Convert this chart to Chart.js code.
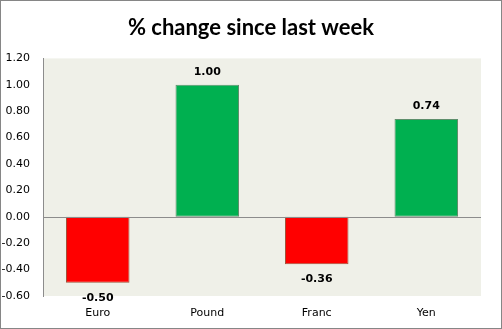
<!DOCTYPE html>
<html>
<head>
<meta charset="utf-8">
<script src="https://cdn.jsdelivr.net/npm/chart.js@4/dist/chart.umd.min.js"></script>
<style>
  html, body { margin: 0; padding: 0; background: #fff; }
  #wrap { width: 502px; height: 329px; position: relative; }
</style>
</head>
<body>
<div id="wrap"><canvas id="chart" width="502" height="329"></canvas></div>
<script>
const categories = ['Euro', 'Pound', 'Franc', 'Yen']
const changes = [-0.50, 1.00, -0.36, 0.74]
const yTicks = [-0.6, -0.4, -0.2, 0, 0.2, 0.4, 0.6, 0.8, 1.0, 1.2]

const upColor = '#00b050'
const downColor = '#ff0000'

// plot background, zero line, outer frame and value labels
const excelLook = {
  id: 'excelLook',
  beforeDraw(chart) {
    const { ctx, chartArea: a } = chart
    ctx.save()
    ctx.fillStyle = '#eff0e8'
    ctx.fillRect(a.left, a.top, a.right - a.left, a.bottom - a.top)
    ctx.restore()
  },
  afterDatasetsDraw(chart) {
    const { ctx, chartArea: a } = chart
    const y0 = Math.round(chart.scales.y.getPixelForValue(0)) + 0.5
    ctx.save()
    ctx.strokeStyle = '#8c8c8c'
    ctx.lineWidth = 1
    ctx.beginPath()
    ctx.moveTo(a.left, y0)
    ctx.lineTo(a.right, y0)
    ctx.stroke()

    ctx.font = 'bold 11px "DejaVu Sans"'
    ctx.fillStyle = '#000'
    ctx.textAlign = 'center'
    ctx.textBaseline = 'middle'
    chart.getDatasetMeta(0).data.forEach((bar, i) => {
      let v = changes[i]
      let y = v >= 0 ? bar.y - 13 : bar.y + 15
      ctx.fillText(v.toFixed(2), bar.x, y)
    })

    ctx.strokeStyle = '#868686'
    ctx.strokeRect(0.5, 0.5, chart.width - 1, chart.height - 1)
    ctx.restore()
  }
}

new Chart(document.getElementById('chart'), {
  type: 'bar',
  data: {
    labels: categories,
    datasets: [{
      data: changes,
      backgroundColor: changes.map(v => v >= 0 ? upColor : downColor),
      borderColor: changes.map(v => v >= 0 ? '#5e8f6c' : '#a0523a'),
      borderWidth: 1,
      borderSkipped: false,
      categoryPercentage: 1,
      barPercentage: 0.58
    }]
  },
  options: {
    responsive: false,
    animation: false,
    layout: { padding: { left: 0, right: 0, top: 0, bottom: 9 } },
    plugins: {
      legend: { display: false },
      tooltip: { enabled: false },
      title: {
        display: true,
        text: '% change since last week',
        color: '#000',
        font: { family: 'Lato', size: 22, weight: 'bold' },
        padding: { top: 15, bottom: 17 }
      }
    },
    scales: {
      x: {
        afterFit: s => { s.height = 24 },
        grid: { display: false, drawTicks: false },
        border: { display: false },
        ticks: { color: '#000', font: { family: 'DejaVu Sans', size: 11 }, padding: 11 }
      },
      y: {
        min: -0.6,
        max: 1.2,
        afterBuildTicks: s => { s.ticks = yTicks.map(v => ({ value: v })) },
        afterFit: s => { s.width = 43 },
        grid: { display: false, drawTicks: false },
        border: { display: true, color: '#8c8c8c' },
        ticks: {
          color: '#000',
          font: { family: 'DejaVu Sans', size: 11 },
          padding: 13,
          callback: v => v.toFixed(2)
        }
      },
      // empty right gutter so the title stays centred on the whole canvas
      yRight: {
        position: 'right',
        afterFit: s => { s.width = 21 },
        grid: { display: false, drawTicks: false },
        border: { display: false },
        ticks: { display: false }
      }
    }
  },
  plugins: [excelLook]
})
</script>
</body>
</html>
